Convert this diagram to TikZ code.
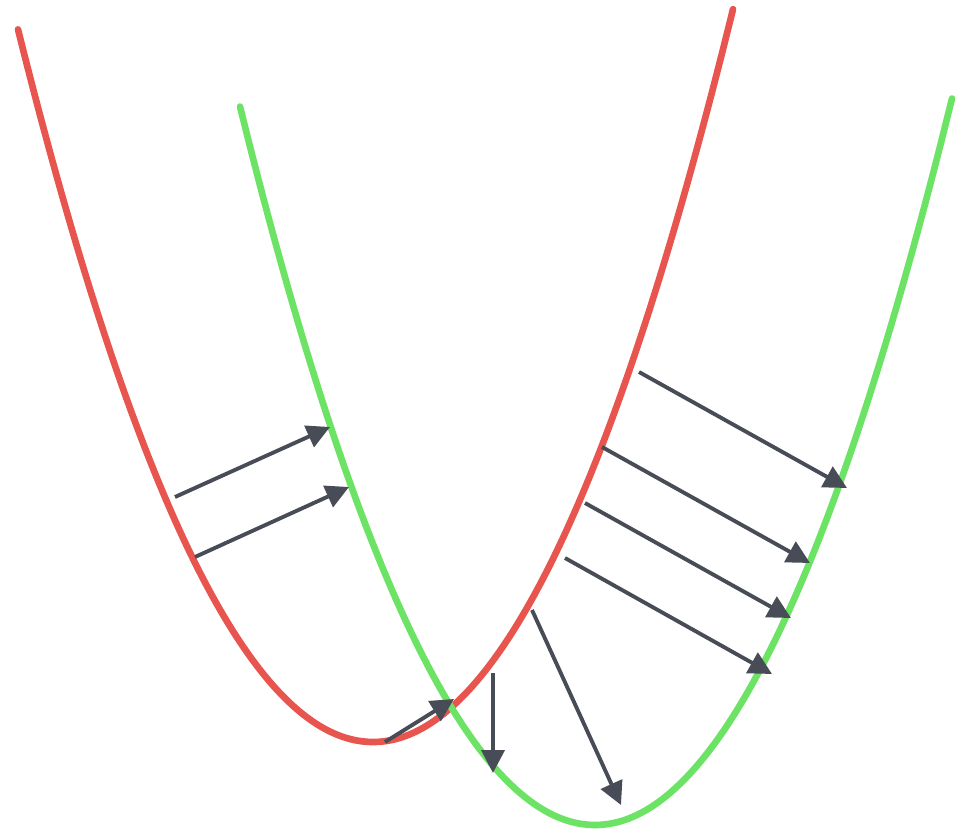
\documentclass[tikz,border=0pt]{standalone}
\usepackage{tikz}
\usetikzlibrary{arrows.meta}
\definecolor{curvered}{HTML}{E8554E}
\definecolor{curvegreen}{HTML}{6DE366}
\definecolor{arrowgray}{HTML}{474C56}
\begin{document}
\begin{tikzpicture}[
    x=0.02cm, y=-0.02cm,
    redcurve/.style={draw=curvered, line width=3.8pt, line cap=round},
    greencurve/.style={draw=curvegreen, line width=3.8pt, line cap=round},
    arrow/.style={-{Triangle[length=0.46cm, width=0.46cm]}, draw=arrowgray, fill=arrowgray, line width=2.2pt}
  ]
    \useasboundingbox (0,0) rectangle (958,835);

    % Curves
    \draw[redcurve] plot[domain=18:733, samples=120, smooth] (\x, {742 - (0.0752*(\x-373))^2});
    \draw[greencurve] plot[domain=240:952, samples=120, smooth] (\x, {825 - (0.0755*(\x-595))^2});

    % Start points on the red curve
    \coordinate (r1) at (175,497);
    \coordinate (r2) at (195,557);
    \coordinate (r3) at (385,742);
    \coordinate (r4) at (493,673);
    \coordinate (r5) at (532,610);
    \coordinate (r6) at (565,558);
    \coordinate (r7) at (585,503);
    \coordinate (r8) at (602,447);
    \coordinate (r9) at (639,372);

    % End points
    \coordinate (g1) at (330,427);
    \coordinate (g2) at (349,487);
    \coordinate (g3) at (454,699);
    \coordinate (g4) at (493,773);
    \coordinate (g5) at (621,805);
    \coordinate (g6) at (772,674);
    \coordinate (g7) at (791,618);
    \coordinate (g8) at (810,563);
    \coordinate (g9) at (847,488);

    % Arrows
    \foreach \i in {1,...,9}
      \draw[arrow] (r\i) -- (g\i);
\end{tikzpicture}
\end{document}
